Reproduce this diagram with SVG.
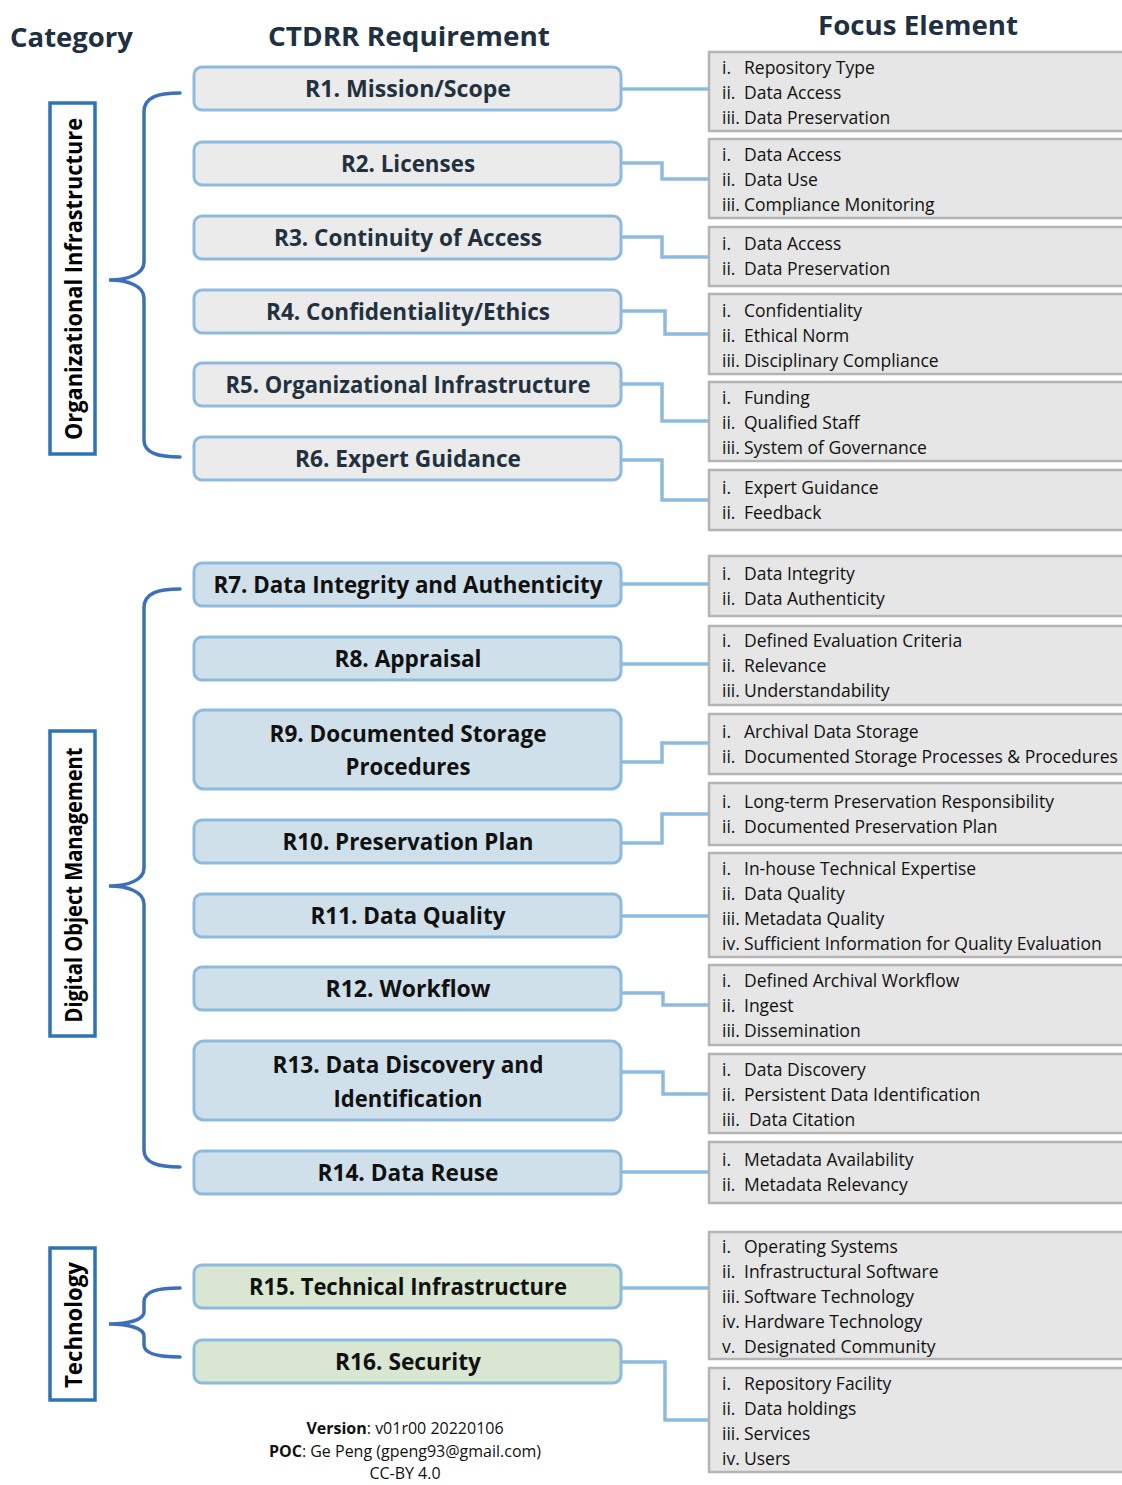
<svg xmlns="http://www.w3.org/2000/svg" width="1122" height="1485" viewBox="0 0 1122 1485">
<style>
.hdr{font-family:"Open Sans","Noto Sans",sans-serif;font-weight:700;font-size:27px;fill:#1f3041}
.req{stroke:#8dbbe0;stroke-width:3}
.org{fill:#ebebeb}
.dom{fill:#d0e0eb}
.tec{fill:#d9e6d1}
.rl{font-family:"Open Sans","Noto Sans",sans-serif;font-weight:700;font-size:23px;fill:#111;text-anchor:middle}
.rlo{fill:#23313f}
.foc{fill:#e6e6e6;stroke:#b4b4b4;stroke-width:2.5}
.ft{font-family:"Open Sans","Noto Sans",sans-serif;font-size:17.5px;fill:#111}
.cat{fill:#fff;stroke:#2e74b5;stroke-width:3.5}
.ct{font-family:"Open Sans","Noto Sans",sans-serif;font-weight:700;font-size:24px;fill:#000;text-anchor:middle}
.br{fill:none;stroke:#3d70b7;stroke-width:3.5;stroke-linecap:round}
.cn{fill:none;stroke:#8dbbe0;stroke-width:3.5}
.foot{font-family:"Open Sans","Noto Sans",sans-serif;font-size:16px;fill:#111;text-anchor:middle}
</style>

<g id="headers">
<text class="hdr" x="10" y="47" textLength="123" lengthAdjust="spacingAndGlyphs">Category</text>
<text class="hdr" x="268" y="46" textLength="282" lengthAdjust="spacingAndGlyphs">CTDRR Requirement</text>
<text class="hdr" x="818" y="35" textLength="200" lengthAdjust="spacingAndGlyphs">Focus Element</text>
</g>

<g id="connectors">
<path class="cn" d="M621,89 H708"/>
<path class="cn" d="M621,163 H662 V179 H708"/>
<path class="cn" d="M621,237 H662 V257 H708"/>
<path class="cn" d="M621,311 H665 V334 H708"/>
<path class="cn" d="M621,384 H662 V421 H708"/>
<path class="cn" d="M621,460 H662 V500 H708"/>
<path class="cn" d="M621,584 H708"/>
<path class="cn" d="M621,664 H708"/>
<path class="cn" d="M621,762 H662 V743 H708"/>
<path class="cn" d="M621,843 H662 V814 H708"/>
<path class="cn" d="M621,916 H708"/>
<path class="cn" d="M621,993 H663 V1005 H708"/>
<path class="cn" d="M621,1072 H663 V1094 H708"/>
<path class="cn" d="M621,1172 H708"/>
<path class="cn" d="M621,1288 H708"/>
<path class="cn" d="M621,1362 H665 V1420 H708"/>
</g>

<g id="braces">
<path class="br" d="M180,93 C158,93 144,97 144,112 V262 C144,274 128,280 109,280 C128,280 144,286 144,298 V440 C144,453 158,457 180,457"/>
<path class="br" d="M180,589 C158,589 144,593 144,608 V868 C144,880 128,886 109,886 C128,886 144,892 144,904 V1150 C144,1163 158,1167 180,1167"/>
<path class="br" d="M180,1288 C158,1288 144,1291 144,1302 V1312 C144,1320 128,1324 109,1324 C128,1324 144,1328 144,1336 V1345 C144,1354 158,1357 180,1357"/>
</g>

<g id="cat-org">
<rect class="cat" x="50" y="103" width="45" height="351"/>
<text class="ct" transform="translate(82,279) rotate(-90)" textLength="322" lengthAdjust="spacingAndGlyphs">Organizational Infrastructure</text>
</g>
<g id="cat-dom">
<rect class="cat" x="50" y="731" width="45" height="305"/>
<text class="ct" transform="translate(82,885) rotate(-90)" textLength="275" lengthAdjust="spacingAndGlyphs">Digital Object Management</text>
</g>
<g id="cat-tech">
<rect class="cat" x="50" y="1248" width="45" height="152"/>
<text class="ct" transform="translate(82,1325) rotate(-90)" textLength="126" lengthAdjust="spacingAndGlyphs">Technology</text>
</g>

<g id="R1"><rect class="req org" x="194" y="67" width="427" height="43" rx="8"/><text class="rl rlo" x="408" y="97" textLength="206" lengthAdjust="spacingAndGlyphs">R1. Mission/Scope</text></g>
<g id="R2"><rect class="req org" x="194" y="142" width="427" height="43" rx="8"/><text class="rl rlo" x="408" y="172" textLength="134" lengthAdjust="spacingAndGlyphs">R2. Licenses</text></g>
<g id="R3"><rect class="req org" x="194" y="216" width="427" height="43" rx="8"/><text class="rl rlo" x="408" y="246" textLength="268" lengthAdjust="spacingAndGlyphs">R3. Continuity of Access</text></g>
<g id="R4"><rect class="req org" x="194" y="290" width="427" height="43" rx="8"/><text class="rl rlo" x="408" y="320" textLength="284" lengthAdjust="spacingAndGlyphs">R4. Confidentiality/Ethics</text></g>
<g id="R5"><rect class="req org" x="194" y="363" width="427" height="43" rx="8"/><text class="rl rlo" x="408" y="393" textLength="365" lengthAdjust="spacingAndGlyphs">R5. Organizational Infrastructure</text></g>
<g id="R6"><rect class="req org" x="194" y="437" width="427" height="43" rx="8"/><text class="rl rlo" x="408" y="467" textLength="226" lengthAdjust="spacingAndGlyphs">R6. Expert Guidance</text></g>
<g id="R7"><rect class="req dom" x="194" y="563" width="427" height="43" rx="8"/><text class="rl" x="408" y="593" textLength="389" lengthAdjust="spacingAndGlyphs">R7. Data Integrity and Authenticity</text></g>
<g id="R8"><rect class="req dom" x="194" y="637" width="427" height="43" rx="8"/><text class="rl" x="408" y="667" textLength="147" lengthAdjust="spacingAndGlyphs">R8. Appraisal</text></g>
<g id="R9"><rect class="req dom" x="194" y="710" width="427" height="79" rx="10"/><text class="rl" x="408" y="742" textLength="277" lengthAdjust="spacingAndGlyphs">R9. Documented Storage</text><text class="rl" x="408" y="775" textLength="125" lengthAdjust="spacingAndGlyphs">Procedures</text></g>
<g id="R10"><rect class="req dom" x="194" y="820" width="427" height="43" rx="8"/><text class="rl" x="408" y="850" textLength="251" lengthAdjust="spacingAndGlyphs">R10. Preservation Plan</text></g>
<g id="R11"><rect class="req dom" x="194" y="894" width="427" height="43" rx="8"/><text class="rl" x="408" y="924" textLength="195" lengthAdjust="spacingAndGlyphs">R11. Data Quality</text></g>
<g id="R12"><rect class="req dom" x="194" y="967" width="427" height="43" rx="8"/><text class="rl" x="408" y="997" textLength="165" lengthAdjust="spacingAndGlyphs">R12. Workflow</text></g>
<g id="R13"><rect class="req dom" x="194" y="1041" width="427" height="79" rx="10"/><text class="rl" x="408" y="1073" textLength="271" lengthAdjust="spacingAndGlyphs">R13. Data Discovery and</text><text class="rl" x="408" y="1107" textLength="149" lengthAdjust="spacingAndGlyphs">Identification</text></g>
<g id="R14"><rect class="req dom" x="194" y="1151" width="427" height="43" rx="8"/><text class="rl" x="408" y="1181" textLength="181" lengthAdjust="spacingAndGlyphs">R14. Data Reuse</text></g>
<g id="R15"><rect class="req tec" x="194" y="1265" width="427" height="43" rx="8"/><text class="rl" x="408" y="1295" textLength="318" lengthAdjust="spacingAndGlyphs">R15. Technical Infrastructure</text></g>
<g id="R16"><rect class="req tec" x="194" y="1340" width="427" height="43" rx="8"/><text class="rl" x="408" y="1370" textLength="146" lengthAdjust="spacingAndGlyphs">R16. Security</text></g>

<g id="F1"><rect class="foc" x="709" y="52" width="420" height="79"/>
<text class="ft" x="722" y="74">i.</text><text class="ft" x="744" y="74">Repository Type</text>
<text class="ft" x="722" y="99">ii.</text><text class="ft" x="744" y="99">Data Access</text>
<text class="ft" x="722" y="124">iii.</text><text class="ft" x="744" y="124">Data Preservation</text></g>
<g id="F2"><rect class="foc" x="709" y="139" width="420" height="79"/>
<text class="ft" x="722" y="161">i.</text><text class="ft" x="744" y="161">Data Access</text>
<text class="ft" x="722" y="186">ii.</text><text class="ft" x="744" y="186">Data Use</text>
<text class="ft" x="722" y="211">iii.</text><text class="ft" x="744" y="211">Compliance Monitoring</text></g>
<g id="F3"><rect class="foc" x="709" y="227" width="420" height="59"/>
<text class="ft" x="722" y="250">i.</text><text class="ft" x="744" y="250">Data Access</text>
<text class="ft" x="722" y="275">ii.</text><text class="ft" x="744" y="275">Data Preservation</text></g>
<g id="F4"><rect class="foc" x="709" y="294" width="420" height="80"/>
<text class="ft" x="722" y="317">i.</text><text class="ft" x="744" y="317">Confidentiality</text>
<text class="ft" x="722" y="342">ii.</text><text class="ft" x="744" y="342">Ethical Norm</text>
<text class="ft" x="722" y="367">iii.</text><text class="ft" x="744" y="367">Disciplinary Compliance</text></g>
<g id="F5"><rect class="foc" x="709" y="382" width="420" height="79"/>
<text class="ft" x="722" y="404">i.</text><text class="ft" x="744" y="404">Funding</text>
<text class="ft" x="722" y="429">ii.</text><text class="ft" x="744" y="429">Qualified Staff</text>
<text class="ft" x="722" y="454">iii.</text><text class="ft" x="744" y="454">System of Governance</text></g>
<g id="F6"><rect class="foc" x="709" y="470" width="420" height="60"/>
<text class="ft" x="722" y="494">i.</text><text class="ft" x="744" y="494">Expert Guidance</text>
<text class="ft" x="722" y="519">ii.</text><text class="ft" x="744" y="519">Feedback</text></g>
<g id="F7"><rect class="foc" x="709" y="556" width="420" height="60"/>
<text class="ft" x="722" y="580">i.</text><text class="ft" x="744" y="580">Data Integrity</text>
<text class="ft" x="722" y="605">ii.</text><text class="ft" x="744" y="605">Data Authenticity</text></g>
<g id="F8"><rect class="foc" x="709" y="626" width="420" height="79"/>
<text class="ft" x="722" y="647">i.</text><text class="ft" x="744" y="647">Defined Evaluation Criteria</text>
<text class="ft" x="722" y="672">ii.</text><text class="ft" x="744" y="672">Relevance</text>
<text class="ft" x="722" y="697">iii.</text><text class="ft" x="744" y="697">Understandability</text></g>
<g id="F9"><rect class="foc" x="709" y="714" width="420" height="60"/>
<text class="ft" x="722" y="738">i.</text><text class="ft" x="744" y="738">Archival Data Storage</text>
<text class="ft" x="722" y="763">ii.</text><text class="ft" x="744" y="763">Documented Storage Processes &amp; Procedures</text></g>
<g id="F10"><rect class="foc" x="709" y="783" width="420" height="62"/>
<text class="ft" x="722" y="808">i.</text><text class="ft" x="744" y="808">Long-term Preservation Responsibility</text>
<text class="ft" x="722" y="833">ii.</text><text class="ft" x="744" y="833">Documented Preservation Plan</text></g>
<g id="F11"><rect class="foc" x="709" y="853" width="420" height="104"/>
<text class="ft" x="722" y="875">i.</text><text class="ft" x="744" y="875">In-house Technical Expertise</text>
<text class="ft" x="722" y="900">ii.</text><text class="ft" x="744" y="900">Data Quality</text>
<text class="ft" x="722" y="925">iii.</text><text class="ft" x="744" y="925">Metadata Quality</text>
<text class="ft" x="722" y="950">iv.</text><text class="ft" x="744" y="950">Sufficient Information for Quality Evaluation</text></g>
<g id="F12"><rect class="foc" x="709" y="965" width="420" height="80"/>
<text class="ft" x="722" y="987">i.</text><text class="ft" x="744" y="987">Defined Archival Workflow</text>
<text class="ft" x="722" y="1012">ii.</text><text class="ft" x="744" y="1012">Ingest</text>
<text class="ft" x="722" y="1037">iii.</text><text class="ft" x="744" y="1037">Dissemination</text></g>
<g id="F13"><rect class="foc" x="709" y="1054" width="420" height="79"/>
<text class="ft" x="722" y="1076">i.</text><text class="ft" x="744" y="1076">Data Discovery</text>
<text class="ft" x="722" y="1101">ii.</text><text class="ft" x="744" y="1101">Persistent Data Identification</text>
<text class="ft" x="722" y="1126">iii.</text><text class="ft" x="749" y="1126">Data Citation</text></g>
<g id="F14"><rect class="foc" x="709" y="1142" width="420" height="61"/>
<text class="ft" x="722" y="1166">i.</text><text class="ft" x="744" y="1166">Metadata Availability</text>
<text class="ft" x="722" y="1191">ii.</text><text class="ft" x="744" y="1191">Metadata Relevancy</text></g>
<g id="F15"><rect class="foc" x="709" y="1232" width="420" height="127"/>
<text class="ft" x="722" y="1253">i.</text><text class="ft" x="744" y="1253">Operating Systems</text>
<text class="ft" x="722" y="1278">ii.</text><text class="ft" x="744" y="1278">Infrastructural Software</text>
<text class="ft" x="722" y="1303">iii.</text><text class="ft" x="744" y="1303">Software Technology</text>
<text class="ft" x="722" y="1328">iv.</text><text class="ft" x="744" y="1328">Hardware Technology</text>
<text class="ft" x="722" y="1353">v.</text><text class="ft" x="744" y="1353">Designated Community</text></g>
<g id="F16"><rect class="foc" x="709" y="1368" width="420" height="104"/>
<text class="ft" x="722" y="1390">i.</text><text class="ft" x="744" y="1390">Repository Facility</text>
<text class="ft" x="722" y="1415">ii.</text><text class="ft" x="744" y="1415">Data holdings</text>
<text class="ft" x="722" y="1440">iii.</text><text class="ft" x="744" y="1440">Services</text>
<text class="ft" x="722" y="1465">iv.</text><text class="ft" x="744" y="1465">Users</text></g>

<g id="footer">
<text class="foot" x="405" y="1434"><tspan font-weight="700">Version</tspan>: v01r00 20220106</text>
<text class="foot" x="405" y="1457"><tspan font-weight="700">POC</tspan>: Ge Peng (gpeng93@gmail.com)</text>
<text class="foot" x="405" y="1479">CC-BY 4.0</text>
</g>
</svg>
